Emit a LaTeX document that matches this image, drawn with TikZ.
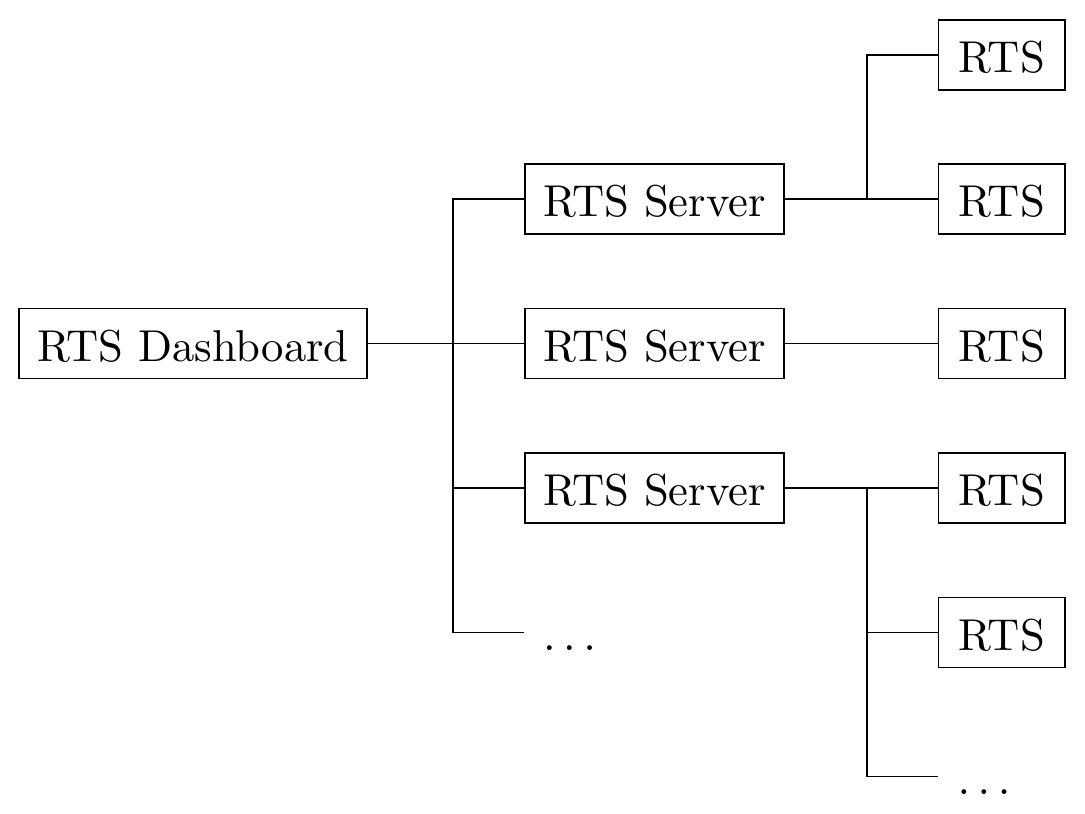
\documentclass[tikz,border=0pt]{standalone}
\begin{document}
\begin{tikzpicture}[x=0.241pt,y=-0.241pt,font=\fontsize{10.75pt}{13pt}\selectfont,
  rtsbox/.style={draw,inner xsep=4.4pt,inner ysep=4.2pt,text height=8.5pt,text depth=0pt},
  leaf/.style={rtsbox,minimum width=30.5pt},
  etc/.style={rtsbox,draw=none,anchor=west}]
\useasboundingbox (0,0) rectangle (1085,814);
\node[rtsbox] (dash) at (193,343.5) {RTS Dashboard};

\node[rtsbox] (srv1) at (654.5,199) {RTS Server};
\node[rtsbox] (srv2) at (654.5,343.5) {RTS Server};
\node[rtsbox] (srv3) at (654.5,488) {RTS Server};
\node[etc] (srvdots) at (524,632.5) {$\ldots$};

\node[leaf] (rts1) at (1001.7,55) {RTS};
\node[leaf] (rts2) at (1001.7,199) {RTS};
\node[leaf] (rts3) at (1001.7,343.5) {RTS};
\node[leaf] (rts4) at (1001.7,488) {RTS};
\node[leaf] (rts5) at (1001.7,632.5) {RTS};
\node[etc] (rtsdots) at (938.5,776.5) {$\ldots$};

\coordinate (busA) at (453,632.5);
\coordinate (busB) at (867,776.5);

\draw (dash.east) -- (srv2.west);
\draw (srv1.west) -| (busA) -- (srvdots.west);
\draw (busA |- srv3) -- (srv3.west);

\draw (srv1.east) -- (rts2.west);
\draw (rts1.west) -| (busB |- srv1);
\draw (srv2.east) -- (rts3.west);
\draw (srv3.east) -- (rts4.west);
\draw (busB |- srv3) -- (busB) -- (rtsdots.west);
\draw (busB |- rts5) -- (rts5.west);
\end{tikzpicture}
\end{document}
